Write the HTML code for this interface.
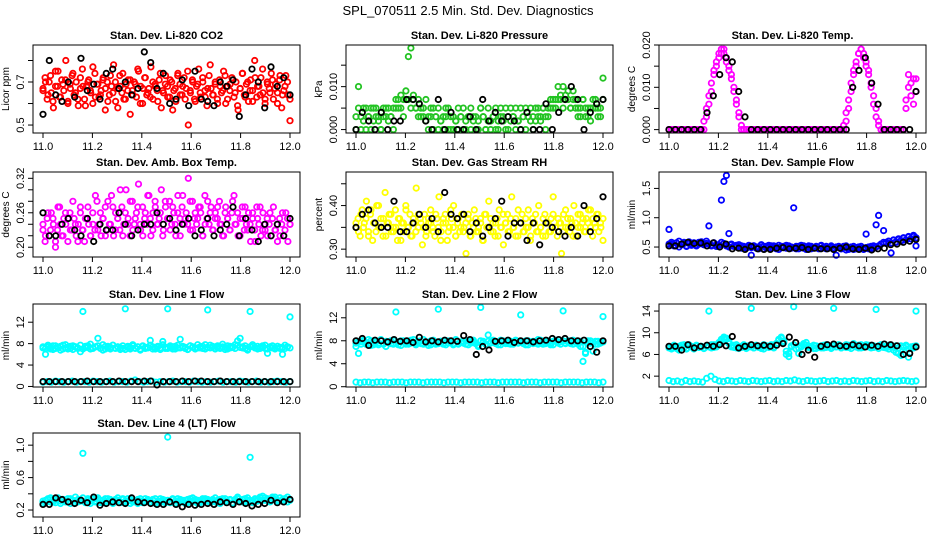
<!DOCTYPE html>
<html><head><meta charset="utf-8"><style>
body{margin:0;background:#fff;}
svg{display:block;font-family:"Liberation Sans",Arial,sans-serif;}
</style></head><body>
<svg id="chart" width="936" height="540" viewBox="0 0 936 540" xmlns="http://www.w3.org/2000/svg">
<rect x="0" y="0" width="936" height="540" fill="#fff"/>
<text x="468" y="15" text-anchor="middle" font-size="13">SPL_070511  2.5 Min. Std. Dev. Diagnostics</text>
<g id="panels"></g>
</svg>
<script>
// x-axis (time) ticks
const xTicks = [11.0, 11.2, 11.4, 11.6, 11.8, 12.0];
const xTickLabels = ["11.0", "11.2", "11.4", "11.6", "11.8", "12.0"];

// Panel 1: CO2 (x0.01 ppm)
const co2Values = [67,72,62,70,65,58,75,68,63,71,66,80,61,69,73,64,70,59,67,76,62,68,71,65,60,74,69,63,66,72,57,70,64,68,78,61,67,73,65,62,69,71,55,66,70,63,75,68,60,72,64,67,77,62,69,66,71,58,65,73,68,63,70,66,61,74,69,64,72,67,50,65,71,62,68,76,63,70,66,59,73,67,64,69,62,71,65,75,60,68,66,72,63,70,57,67,74,64,69,61,71,66,80,63,68,72,65,60,70,67,74,62,69,65,71,58,66,73,64,52];
const co2Values2 = [66,70,64,73,61,68,75,63,69,71,60,67,74,65,62,72,68,59,70,66,77,63,69,64,71,67,61,73,65,70,58,68,74,62,66,71,64,69,76,60,67,72,65,63,70,68,61,74,66,69,63,71,57,67,73,64,68,62,75,66,70,61,69,65,72,63,67,78,64,70,60,68,66,73,62,69,71,65,59,67,74,63,70,66,61,72,68,64,76,62,69,65,71,67,60,73,64,68,70,62];
const co2Black = [55,80,64,61,70,63,81,66,69,62,74,76,67,70,64,67,84,79,67,74,60,62,71,59,75,62,61,59,70,68,71,54,64,76,70,58,77,68,72,64];
// Panel 2: pressure (x0.001 kPa)
const presValues = [0,10,3,5,0,3,5,2,5,3,0,5,3,5,3,0,5,7,5,3,7,17,19,8,5,7,3,5,7,3,5,0,3,5,2,0,3,5,0,3,2,0,3,5,0,3,0,2,3,0,5,3,0,2,0,3,5,0,3,2,0,3,5,3,0,2,5,3,0,3,5,3,2,5,3,5,3,5,7,5,7,10,7,5,8,7,5,9,7,5,3,7,5,3,5,7,5,3,5,12];
const presValues2 = [3,5,0,2,5,3,0,5,3,2,0,3,5,2,3,5,7,5,8,7,9,7,5,7,5,3,5,3,2,0,3,5,3,0,2,3,5,0,3,0,2,5,3,0,2,3,5,3,0,2,5,3,0,5,2,3,0,2,5,3,5,0,2,3,5,2,0,3,5,3,2,0,5,3,2,5,0,3,5,7,5,7,8,10,7,9,5,7,5,3,5,7,3,5,2,5,7,5,3,7];
const presBlack = [0,4,2,0,4,0,2,2,7,7,6,2,0,7,0,4,0,0,3,0,7,2,4,2,3,2,0,4,0,0,6,0,4,7,10,7,0,4,6,7];
// Panel 3: Li-820 temp (x0.001 C)
const tempValues = [0,0,0,0,0,0,0,0,0,0,0,0,0,0,0,3,6,9,13,15,17,18,19,17,15,13,10,7,4,1,0,0,0,0,0,0,0,0,0,0,0,0,0,0,0,0,0,0,0,0,0,0,0,0,0,0,0,0,0,0,0,0,0,0,0,0,0,0,0,0,0,2,5,9,13,15,18,19,18,16,14,11,8,5,2,0,0,0,0,0,0,0,0,0,0,5,10,8,12,9];
const tempValues2 = [0,0,0,0,0,0,0,0,0,0,0,0,0,0,2,5,8,11,14,16,18,19,18,16,14,12,9,6,3,0,0,0,0,0,0,0,0,0,0,0,0,0,0,0,0,0,0,0,0,0,0,0,0,0,0,0,0,0,0,0,0,0,0,0,0,0,0,0,0,0,1,4,7,11,14,16,18,19,17,15,13,10,6,3,1,0,0,0,0,0,0,0,0,0,0,7,13,11,6,12];
const tempBlack = [0,0,0,0,0,0,4,8,13,17,16,9,3,0,0,0,0,0,0,0,0,0,0,0,0,0,0,0,0,10,14,17,11,6,0,0,0,0,0,9];
// Panel 4: ambient box temp (x0.01 C)
const ambValues = [23,21,25,22,26,24,20,23,27,22,25,24,21,26,23,25,22,24,27,23,21,25,24,22,26,23,28,24,22,25,27,23,24,29,22,26,25,23,27,24,30,25,22,28,24,26,31,23,27,25,24,29,22,26,28,24,25,30,23,27,25,28,24,26,22,29,25,27,24,26,32,23,28,25,24,27,26,22,29,25,24,27,23,26,25,28,24,22,27,25,23,26,29,24,22,25,27,23,24,26,21,25,23,27,24,22,26,23,25,24,22,27,23,21,25,24,22,26,21,24];
const ambValues2 = [24,22,26,23,25,21,27,24,22,26,25,23,28,24,21,26,23,25,27,22,24,29,23,26,25,22,28,24,27,23,25,30,22,26,24,28,23,25,27,24,22,26,29,25,23,27,24,26,22,28,25,23,27,24,26,22,29,25,24,28,23,26,25,27,22,24,28,26,23,25,27,24,22,26,25,23,28,24,26,22,25,27,23,24,26,21,25,27,23,24,22,26,25,23,24,22,26,23,25,24];
const ambBlack = [26,22,22,24,25,23,22,25,21,24,23,23,26,24,22,23,24,24,26,24,25,23,24,25,22,23,25,22,23,24,27,22,25,23,21,24,22,24,22,25];
// Panel 5: gas stream RH (x0.01 percent)
const rhValues = [35,37,33,39,36,41,34,38,32,36,40,35,37,33,43,36,38,34,35,39,32,37,36,34,40,35,38,33,36,44,35,37,31,38,34,36,39,35,33,37,42,34,36,38,32,35,37,40,33,36,34,38,35,29,37,33,36,39,34,35,37,32,38,35,41,34,36,33,37,39,35,31,36,38,34,42,35,37,33,36,38,34,35,39,32,37,36,34,40,35,33,38,36,34,37,42,35,33,36,29,38,35,37,34,36,40,33,35,38,36,34,37,39,35,33,36,38,34,35,32];
const rhValues2 = [36,34,38,35,37,33,39,36,34,40,35,37,33,36,38,34,35,37,32,36,39,35,33,37,34,38,36,35,33,37,36,34,38,35,32,37,36,34,39,35,33,37,35,34,36,38,33,35,37,34,36,32,38,35,37,34,36,33,35,38,36,34,37,35,33,39,36,34,37,35,33,36,38,34,35,37,33,36,34,38,35,37,36,34,39,35,37,33,36,38,35,37,34,36,39,37,35,38,36,37];
const rhBlack = [35,38,39,36,35,35,41,34,34,36,38,35,37,34,43,38,37,38,34,36,33,35,37,41,33,36,36,32,36,31,36,35,34,33,35,33,40,34,37,42];
// Panel 6: sample flow (x0.01 ml/min)
const sampleValues = [80,55,52,57,50,54,58,51,56,53,57,52,55,59,54,56,86,53,57,51,54,130,162,172,73,55,52,50,54,48,51,49,53,36,52,50,47,54,51,49,53,48,52,50,46,51,49,53,50,48,117,51,47,50,52,46,49,51,48,50,47,52,49,51,48,50,46,36,49,47,51,45,48,50,46,49,47,51,48,72,50,47,52,88,104,55,78,58,60,40,62,58,64,60,66,62,68,64,70,52];
const sampleValues2 = [55,58,53,57,60,54,56,52,59,55,57,53,58,56,54,60,55,52,57,54,53,58,56,52,50,54,51,53,49,52,50,48,51,49,52,48,50,53,47,51,49,52,50,47,53,49,51,48,52,50,49,47,51,53,48,50,52,47,49,51,48,53,50,47,49,52,48,50,51,47,49,52,46,48,51,47,50,48,46,49,47,51,48,50,52,55,58,56,60,57,62,59,63,61,65,62,67,64,68,66];
const sampleBlack = [52,52,55,58,56,57,52,57,50,55,47,48,46,51,47,46,46,48,49,47,48,49,46,48,47,47,46,48,50,47,46,48,45,47,48,54,55,58,60,63];
// Panel 7: line 1 flow (x0.1 ml/min)
const line1High = [72,60,74,70,76,71,73,68,77,72,70,75,69,74,71,65,140,73,76,70,72,74,90,71,68,75,73,70,77,72,74,69,71,145,73,70,76,72,74,68,75,71,73,86,70,72,74,69,84,71,145,73,70,75,72,88,74,71,69,76,73,70,72,74,71,78,143,72,75,70,73,71,74,69,76,72,73,78,85,90,74,71,68,140,75,72,70,73,76,71,62,74,72,70,75,73,60,71,74,130];
const line1High2 = [74,71,77,73,69,76,72,75,70,78,73,71,76,74,72,77,70,75,73,79,71,74,76,72,78,70,75,73,77,71,74,72,76,69,75,73,78,71,74,70,76,73,72,77,74,70,75,72,78,73,71,76,74,70,77,72,75,73,69,76,74,71,78,72,75,70,73,77,74,71,76,72,79,73,70,75,74,71,77,73,72,76,70,74,78,72,75,71,73,77,70,74,76,72,75,71,73,77,74,72];
const line1Low = [8,9,8,10,9,8,9,10,8,9,9,8,10,9,8,9,10,8,9,9,8,10,12,9,8,9,10,8,9,8,9,10,8,9,9,8,10,9,8,9,8,9,10,8,9,9,8,10,9,8,9,10,8,9,8,9,10,9,8,9];
const line1Black = [9,9,9,9,9,9,9,10,9,9,9,9,10,9,9,9,10,10,3,9,9,9,10,9,10,10,9,9,10,9,9,9,9,9,9,9,9,9,9,9];
// Panel 8: line 2 flow (x0.1 ml/min)
const line2High = [70,58,78,80,74,82,72,76,79,73,81,75,70,77,80,74,130,78,72,80,76,74,81,77,73,79,75,82,76,72,80,78,74,135,79,76,73,80,77,75,82,74,78,76,80,73,77,81,75,70,138,79,74,90,77,80,76,73,81,78,75,79,74,77,80,76,125,78,73,80,77,75,79,82,76,74,80,77,73,79,81,76,78,132,75,80,77,74,79,76,70,44,58,80,76,62,79,74,78,122];
const line2High2 = [76,79,74,81,77,75,80,73,78,76,82,74,79,77,75,81,76,73,80,78,74,79,76,82,75,77,80,74,78,76,73,81,77,75,79,74,80,76,78,73,81,75,77,79,74,80,76,78,75,72,80,77,74,79,76,81,75,78,73,80,77,75,79,74,81,76,78,75,80,73,77,79,76,74,81,78,75,80,76,73,79,77,74,80,76,78,75,81,77,74,79,70,60,76,80,77,74,79,76,78];
const line2Low = [8,7,8,8,7,8,8,8,7,8,8,8,7,8,8,8,7,8,8,8,8,7,8,8,8,7,8,8,8,8,7,8,8,8,7,8,8,8,8,8,7,8,8,8,7,8,8,8,8,7,8,8,8,8,7,8,8,8,7,8];
const line2Black = [80,84,72,81,80,78,82,79,80,77,86,78,80,78,81,80,79,89,82,56,70,64,79,80,81,77,80,80,78,80,81,84,82,84,80,80,81,70,60,80];
// Panel 9: line 3 flow (x0.1 ml/min)
const line3High = [72,70,76,74,68,77,73,71,78,75,70,76,73,74,71,75,140,72,78,74,80,88,92,90,84,76,73,78,71,75,77,73,74,145,72,76,74,71,78,75,73,76,74,80,88,92,85,60,56,76,148,70,62,74,78,82,75,73,77,71,74,76,72,78,75,73,145,74,77,72,75,78,73,76,80,74,77,72,76,78,74,75,73,143,76,78,74,72,77,75,73,76,62,58,74,77,55,72,75,140];
const line3High2 = [74,72,77,71,75,73,78,70,76,74,72,77,73,75,71,76,74,78,73,75,82,86,90,88,80,74,77,72,75,73,78,71,76,74,72,77,73,75,70,76,74,78,72,80,86,90,82,66,62,74,78,70,72,76,80,77,73,75,71,76,74,72,77,73,75,71,76,74,78,72,75,73,77,71,76,74,72,78,73,75,77,72,76,74,71,77,73,75,70,74,68,64,72,76,73,75,70,74,72,76];
const line3Low = [12,10,11,9,12,10,11,10,9,16,20,14,11,10,12,11,10,12,11,10,12,11,10,11,12,10,11,10,12,11,13,11,10,12,11,10,11,12,10,11,12,10,11,10,12,11,10,11,12,10,11,10,12,11,10,11,12,11,10,11];
const line3Black = [75,75,68,78,72,75,77,75,78,76,93,72,75,78,76,77,75,77,80,92,82,60,68,55,75,78,79,76,75,78,76,74,77,75,79,78,76,60,62,74];
// Panel 10: line 4 (LT) flow (x0.01 ml/min)
const line4Values = [28,32,34,30,33,29,35,31,33,30,34,28,32,36,30,33,90,29,34,31,33,30,35,32,29,34,31,33,30,32,35,29,33,31,34,28,32,30,33,31,29,34,32,30,33,28,31,34,30,32,110,29,33,31,34,30,32,28,33,31,35,30,32,29,34,31,33,30,32,35,29,33,31,34,30,32,28,33,36,31,30,34,32,85,29,33,31,35,37,32,34,30,36,33,31,35,32,34,30,33];
const line4Values2 = [31,29,33,35,30,32,34,28,33,31,30,34,32,29,33,31,35,30,32,28,34,31,33,29,32,30,34,31,28,33,32,30,34,29,31,33,30,32,28,34,31,30,33,29,32,34,30,31,33,29,32,30,34,28,31,33,30,32,29,34,31,33,28,30,32,34,31,29,33,30,32,28,34,31,30,33,29,32,34,31,33,30,35,32,31,34,33,36,32,35,33,31,34,36,32,35,33,34,36,32];
const line4Black = [27,27,35,33,30,28,32,29,36,26,28,30,29,28,35,30,29,28,27,27,30,27,24,27,26,27,28,27,30,29,27,30,28,25,27,28,32,29,30,33];

const panels = [
  {name:"co2", title:"Stan. Dev. Li-820 CO2", ylab:"Licor ppm", col:0,row:0, ymin:0.463,ymax:0.872, yTicks:[0.5,0.6,0.7,0.8], yLabels:["0.5","","0.7",""], series:[{c:"#ff0000",v:co2Values,s:0.01},{c:"#ff0000",v:co2Values2,s:0.01},{c:"#000",v:co2Black,s:0.01}]},
  {name:"pressure", title:"Stan. Dev. Li-820 Pressure", ylab:"kPa", col:1,row:0, ymin:-0.0008,ymax:0.0197, yTicks:[0,0.005,0.01,0.015], yLabels:["0.000","","0.010",""], series:[{c:"#22c322",v:presValues,s:0.001},{c:"#22c322",v:presValues2,s:0.001},{c:"#000",v:presBlack,s:0.001}]},
  {name:"li820-temp", title:"Stan. Dev. Li-820 Temp.", ylab:"degrees C", col:2,row:0, ymin:-0.0008,ymax:0.0200, yTicks:[0,0.005,0.01,0.015,0.02], yLabels:["0.000","","0.010","","0.020"], series:[{c:"#ff00ff",v:tempValues,s:0.001},{c:"#ff00ff",v:tempValues2,s:0.001},{c:"#000",v:tempBlack,s:0.001}]},
  {name:"amb-temp", title:"Stan. Dev. Amb. Box Temp.", ylab:"degrees C", col:0,row:1, ymin:0.183,ymax:0.331, yTicks:[0.20,0.22,0.24,0.26,0.28,0.30,0.32], yLabels:["0.20","","","0.26","","","0.32"], series:[{c:"#ff00ff",v:ambValues,s:0.01},{c:"#ff00ff",v:ambValues2,s:0.01},{c:"#000",v:ambBlack,s:0.01}]},
  {name:"rh", title:"Stan. Dev. Gas Stream RH", ylab:"percent", col:1,row:1, ymin:0.282,ymax:0.477, yTicks:[0.30,0.35,0.40,0.45], yLabels:["0.30","","0.40",""], series:[{c:"#ffff00",v:rhValues,s:0.01},{c:"#ffff00",v:rhValues2,s:0.01},{c:"#000",v:rhBlack,s:0.01}]},
  {name:"sample-flow", title:"Stan. Dev. Sample Flow", ylab:"ml/min", col:2,row:1, ymin:0.33,ymax:1.78, yTicks:[0.5,1.0,1.5], yLabels:["0.5","1.0","1.5"], series:[{c:"#0000ff",v:sampleValues,s:0.01},{c:"#0000ff",v:sampleValues2,s:0.01},{c:"#000",v:sampleBlack,s:0.01}]},
  {name:"line1-flow", title:"Stan. Dev. Line 1 Flow", ylab:"ml/min", col:0,row:2, ymin:-0.1,ymax:15.4, yTicks:[0,4,8,12], yLabels:["0","4","8","12"], series:[{c:"#00ffff",v:line1High,s:0.1},{c:"#00ffff",v:line1High2,s:0.1},{c:"#00ffff",v:line1Low,s:0.1},{c:"#000",v:line1Black,s:0.1}]},
  {name:"line2-flow", title:"Stan. Dev. Line 2 Flow", ylab:"ml/min", col:1,row:2, ymin:-0.05,ymax:14.4, yTicks:[0,4,8,12], yLabels:["0","4","8","12"], series:[{c:"#00ffff",v:line2High,s:0.1},{c:"#00ffff",v:line2High2,s:0.1},{c:"#00ffff",v:line2Low,s:0.1},{c:"#000",v:line2Black,s:0.1}]},
  {name:"line3-flow", title:"Stan. Dev. Line 3 Flow", ylab:"ml/min", col:2,row:2, ymin:0.0,ymax:15.3, yTicks:[2,6,10,14], yLabels:["2","6","10","14"], series:[{c:"#00ffff",v:line3High,s:0.1},{c:"#00ffff",v:line3High2,s:0.1},{c:"#00ffff",v:line3Low,s:0.1},{c:"#000",v:line3Black,s:0.1}]},
  {name:"line4-flow", title:"Stan. Dev. Line 4 (LT) Flow", ylab:"ml/min", col:0,row:3, ymin:0.114,ymax:1.15, yTicks:[0.2,0.4,0.6,0.8,1.0], yLabels:["0.2","","0.6","","1.0"], series:[{c:"#00ffff",v:line4Values,s:0.01},{c:"#00ffff",v:line4Values2,s:0.01},{c:"#000",v:line4Black,s:0.01}]}
];

const colX = [33, 346, 659];
const rowY = [[45,133],[172,257],[304,387],[433,517]];
const BOXW = 267;
const NS = "http://www.w3.org/2000/svg";
const root = document.getElementById("panels");
function mk(tag, attrs, parent){
  const e = document.createElementNS(NS, tag);
  for (const k in attrs) e.setAttribute(k, attrs[k]);
  parent.appendChild(e);
  return e;
}
panels.forEach(p => {
  const L = colX[p.col], T = rowY[p.row][0], B = rowY[p.row][1], R = L + BOXW;
  const xs = v => L + 10 + (v - 11) * 247;
  const ys = v => B - (v - p.ymin) / (p.ymax - p.ymin) * (B - T);
  const g = mk("g", {}, root);
  
  
  const t = mk("text", {x:(L+R)/2, y:T-6, "text-anchor":"middle", "font-size":"11", "font-weight":"bold"}, g);
  t.textContent = p.title;
  
  
  const pts = mk("g", {fill:"none"}, g);
  
  
  p.series.forEach(s => {
    const n = s.v.length;
    s.v.forEach((val, i) => {
      const x = 11 + i / (n - 1);
      const c = mk("circle", {cx:xs(x).toFixed(1), cy:ys(val * s.s).toFixed(1), r:"2.7", stroke:s.c, "stroke-width":"1.8"}, pts);
      
      
    });
  });
  const box = mk("rect", {x:L, y:T, width:BOXW, height:B-T, fill:"none", stroke:"#000", "stroke-width":"1"}, g);
  
  
  const xa = mk("g", {}, g);
  
  
  mk("line", {x1:xs(xTicks[0]), x2:xs(xTicks[xTicks.length-1]), y1:B, y2:B, stroke:"#000"}, xa);
  xTicks.forEach((v, i) => {
    mk("line", {x1:xs(v), x2:xs(v), y1:B, y2:B+5, stroke:"#000"}, xa);
    const tl = mk("text", {x:xs(v), y:B+17, "text-anchor":"middle", "font-size":"11"}, xa);
    tl.textContent = xTickLabels[i];
    
    
  });
  const ya = mk("g", {}, g);
  
  
  mk("line", {x1:L, x2:L, y1:ys(p.yTicks[0]), y2:ys(p.yTicks[p.yTicks.length-1]), stroke:"#000"}, ya);
  p.yTicks.forEach((v, i) => {
    mk("line", {x1:L-5, x2:L, y1:ys(v), y2:ys(v), stroke:"#000"}, ya);
    if (p.yLabels[i]) {
      const yy = ys(v);
      const tl = mk("text", {x:L-9, y:yy, "text-anchor":"middle", "font-size":"11", transform:"rotate(-90 " + (L-9) + " " + yy + ")"}, ya);
      tl.textContent = p.yLabels[i];
      
      
    }
  });
  const cy = (T + B) / 2;
  const yl = mk("text", {x:L-24, y:cy, "text-anchor":"middle", "font-size":"10", transform:"rotate(-90 " + (L-24) + " " + cy + ")"}, g);
  yl.textContent = p.ylab;
  
  
});
</script>
</body></html>
